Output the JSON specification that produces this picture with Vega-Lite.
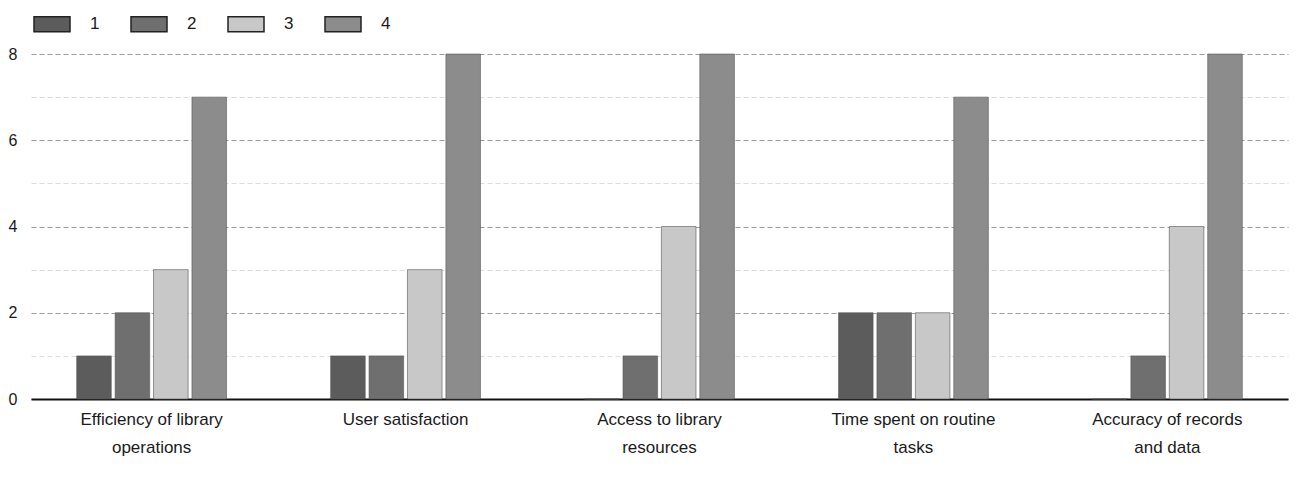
{
  "$schema": "https://vega.github.io/schema/vega-lite/v6.json",
  "width": 1257,
  "height": 345,
  "padding": {"left": 8, "top": 8, "right": 8, "bottom": 2},
  "background": "#ffffff",
  "config": {
    "view": {"stroke": null},
    "font": "Liberation Sans"
  },
  "data": {
    "values": [
      {"category": "Efficiency of library|operations", "series": "1", "value": 1},
      {"category": "Efficiency of library|operations", "series": "2", "value": 2},
      {"category": "Efficiency of library|operations", "series": "3", "value": 3},
      {"category": "Efficiency of library|operations", "series": "4", "value": 7},
      {"category": "User satisfaction", "series": "1", "value": 1},
      {"category": "User satisfaction", "series": "2", "value": 1},
      {"category": "User satisfaction", "series": "3", "value": 3},
      {"category": "User satisfaction", "series": "4", "value": 8},
      {"category": "Access to library|resources", "series": "1", "value": 0},
      {"category": "Access to library|resources", "series": "2", "value": 1},
      {"category": "Access to library|resources", "series": "3", "value": 4},
      {"category": "Access to library|resources", "series": "4", "value": 8},
      {"category": "Time spent on routine|tasks", "series": "1", "value": 2},
      {"category": "Time spent on routine|tasks", "series": "2", "value": 2},
      {"category": "Time spent on routine|tasks", "series": "3", "value": 2},
      {"category": "Time spent on routine|tasks", "series": "4", "value": 7},
      {"category": "Accuracy of records|and data", "series": "1", "value": 0},
      {"category": "Accuracy of records|and data", "series": "2", "value": 1},
      {"category": "Accuracy of records|and data", "series": "3", "value": 4},
      {"category": "Accuracy of records|and data", "series": "4", "value": 8}
    ]
  },
  "mark": {"type": "bar", "stroke": "#555555", "strokeWidth": 0.6},
  "encoding": {
    "x": {
      "field": "category",
      "type": "nominal",
      "sort": null,
      "scale": {"paddingInner": 0.41, "paddingOuter": 0.18},
      "axis": {
        "title": null,
        "labelAngle": 0,
        "labelExpr": "split(datum.label, '|')",
        "labelFontSize": 17,
        "labelColor": "#1a1a1a",
        "labelPadding": 12,
        "labelLineHeight": 28,
        "ticks": false,
        "domainColor": "#111111",
        "domainWidth": 2,
        "labelLimit": 300
      }
    },
    "xOffset": {
      "field": "series",
      "type": "nominal",
      "scale": {"paddingInner": 0.1}
    },
    "y": {
      "field": "value",
      "type": "quantitative",
      "scale": {"domain": [0, 8], "nice": false},
      "axis": {
        "title": null,
        "values": [0, 1, 2, 3, 4, 5, 6, 7, 8],
        "labelExpr": "datum.value % 2 === 0 ? datum.label : ''",
        "labelFontSize": 16,
        "labelColor": "#1a1a1a",
        "labelPadding": 14,
        "ticks": false,
        "domain": false,
        "grid": true,
        "gridDash": [5, 3],
        "gridColor": {"condition": {"test": "datum.value % 2 === 0", "value": "#9a9a9a"}, "value": "#dddddd"},
        "gridWidth": 1.2
      }
    },
    "color": {
      "field": "series",
      "type": "nominal",
      "scale": {"domain": ["1", "2", "3", "4"], "range": ["#5c5c5c", "#6f6f6f", "#c8c8c8", "#8c8c8c"]},
      "legend": {
        "title": null,
        "orient": "none",
        "legendX": 5,
        "legendY": -46,
        "direction": "horizontal",
        "symbolType": "M-1.2,-0.5H1.2V0.5H-1.2Z",
        "symbolSize": 900,
        "symbolStrokeColor": "#222222",
        "symbolStrokeWidth": 1.5,
        "labelFontSize": 17,
        "labelColor": "#1a1a1a",
        "columnPadding": 28,
        "labelOffset": 22
      }
    }
  }
}
